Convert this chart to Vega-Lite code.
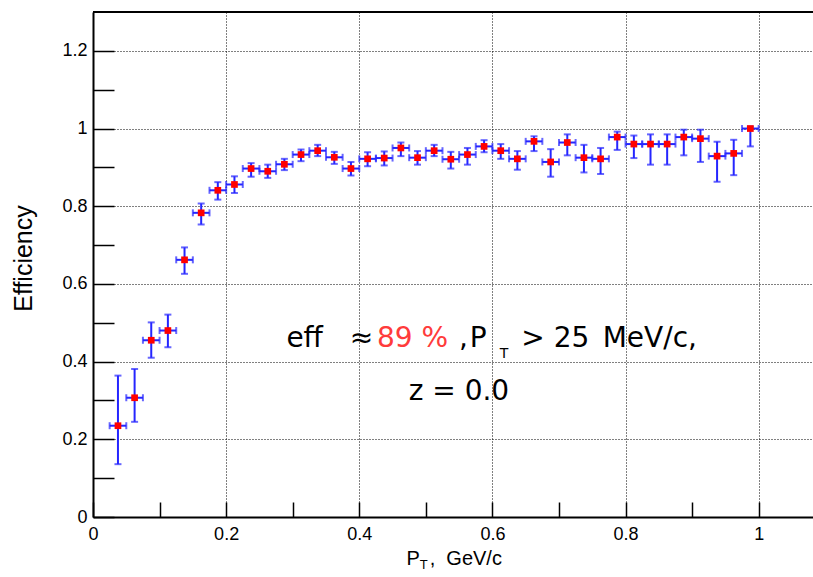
{
  "$schema": "https://vega.github.io/schema/vega-lite/v6.json",
  "width": 720,
  "height": 505,
  "autosize": "none",
  "padding": {"left": 93, "top": 12, "right": 0, "bottom": 60},
  "background": "white",
  "config": {
    "view": {"stroke": null},
    "text": {"fontWeight": "normal"},
    "axis": {
      "labelFont": "Liberation Sans",
      "labelFontSize": 18,
      "labelColor": "black",
      "titleFont": "Liberation Sans",
      "titleFontWeight": "normal",
      "titleColor": "black",
      "domainColor": "black",
      "domainWidth": 2,
      "tickColor": "black",
      "tickWidth": 1.5,
      "gridColor": "black",
      "gridDash": [1, 2],
      "gridWidth": 1,
      "labelOverlap": false,
      "labelFlush": false,
      "labelBound": false,
      "format": "~g"
    }
  },
  "datasets": {
    "eff": [
      {"pt": 0.0375, "xlo": 0.025, "xhi": 0.05, "eff": 0.235, "lo": 0.136, "hi": 0.364},
      {"pt": 0.0625, "xlo": 0.05, "xhi": 0.075, "eff": 0.307, "lo": 0.245, "hi": 0.381},
      {"pt": 0.0875, "xlo": 0.075, "xhi": 0.1, "eff": 0.455, "lo": 0.41, "hi": 0.501},
      {"pt": 0.1125, "xlo": 0.1, "xhi": 0.125, "eff": 0.48, "lo": 0.437, "hi": 0.521},
      {"pt": 0.1375, "xlo": 0.125, "xhi": 0.15, "eff": 0.662, "lo": 0.626, "hi": 0.694},
      {"pt": 0.1625, "xlo": 0.15, "xhi": 0.175, "eff": 0.783, "lo": 0.753, "hi": 0.807},
      {"pt": 0.1875, "xlo": 0.175, "xhi": 0.2, "eff": 0.841, "lo": 0.817, "hi": 0.862},
      {"pt": 0.2125, "xlo": 0.2, "xhi": 0.225, "eff": 0.856, "lo": 0.834, "hi": 0.877},
      {"pt": 0.2375, "xlo": 0.225, "xhi": 0.25, "eff": 0.897, "lo": 0.876, "hi": 0.911},
      {"pt": 0.2625, "xlo": 0.25, "xhi": 0.275, "eff": 0.89, "lo": 0.873, "hi": 0.907},
      {"pt": 0.2875, "xlo": 0.275, "xhi": 0.3, "eff": 0.908, "lo": 0.893, "hi": 0.922},
      {"pt": 0.3125, "xlo": 0.3, "xhi": 0.325, "eff": 0.933, "lo": 0.916, "hi": 0.946},
      {"pt": 0.3375, "xlo": 0.325, "xhi": 0.35, "eff": 0.943, "lo": 0.929, "hi": 0.958},
      {"pt": 0.3625, "xlo": 0.35, "xhi": 0.375, "eff": 0.926, "lo": 0.909, "hi": 0.94},
      {"pt": 0.3875, "xlo": 0.375, "xhi": 0.4, "eff": 0.897, "lo": 0.879, "hi": 0.914},
      {"pt": 0.4125, "xlo": 0.4, "xhi": 0.425, "eff": 0.922, "lo": 0.903, "hi": 0.939},
      {"pt": 0.4375, "xlo": 0.425, "xhi": 0.45, "eff": 0.924, "lo": 0.905, "hi": 0.941},
      {"pt": 0.4625, "xlo": 0.45, "xhi": 0.475, "eff": 0.95, "lo": 0.929, "hi": 0.964},
      {"pt": 0.4875, "xlo": 0.475, "xhi": 0.5, "eff": 0.925, "lo": 0.907, "hi": 0.942},
      {"pt": 0.5125, "xlo": 0.5, "xhi": 0.525, "eff": 0.943, "lo": 0.929, "hi": 0.958},
      {"pt": 0.5375, "xlo": 0.525, "xhi": 0.55, "eff": 0.921, "lo": 0.897, "hi": 0.94},
      {"pt": 0.5625, "xlo": 0.55, "xhi": 0.575, "eff": 0.933, "lo": 0.907, "hi": 0.95},
      {"pt": 0.5875, "xlo": 0.575, "xhi": 0.6, "eff": 0.954, "lo": 0.939, "hi": 0.97},
      {"pt": 0.6125, "xlo": 0.6, "xhi": 0.625, "eff": 0.943, "lo": 0.922, "hi": 0.96},
      {"pt": 0.6375, "xlo": 0.625, "xhi": 0.65, "eff": 0.922, "lo": 0.894, "hi": 0.942},
      {"pt": 0.6625, "xlo": 0.65, "xhi": 0.675, "eff": 0.967, "lo": 0.942, "hi": 0.98},
      {"pt": 0.6875, "xlo": 0.675, "xhi": 0.7, "eff": 0.914, "lo": 0.876, "hi": 0.947},
      {"pt": 0.7125, "xlo": 0.7, "xhi": 0.725, "eff": 0.964, "lo": 0.931, "hi": 0.985},
      {"pt": 0.7375, "xlo": 0.725, "xhi": 0.75, "eff": 0.925, "lo": 0.887, "hi": 0.958},
      {"pt": 0.7625, "xlo": 0.75, "xhi": 0.775, "eff": 0.922, "lo": 0.883, "hi": 0.95},
      {"pt": 0.7875, "xlo": 0.775, "xhi": 0.8, "eff": 0.978, "lo": 0.945, "hi": 0.992},
      {"pt": 0.8125, "xlo": 0.8, "xhi": 0.825, "eff": 0.96, "lo": 0.924, "hi": 0.982},
      {"pt": 0.8375, "xlo": 0.825, "xhi": 0.85, "eff": 0.96, "lo": 0.907, "hi": 0.985},
      {"pt": 0.8625, "xlo": 0.85, "xhi": 0.875, "eff": 0.96, "lo": 0.907, "hi": 0.985},
      {"pt": 0.8875, "xlo": 0.875, "xhi": 0.9, "eff": 0.978, "lo": 0.931, "hi": 0.997},
      {"pt": 0.9125, "xlo": 0.9, "xhi": 0.925, "eff": 0.974, "lo": 0.914, "hi": 0.997},
      {"pt": 0.9375, "xlo": 0.925, "xhi": 0.95, "eff": 0.929, "lo": 0.863, "hi": 0.966},
      {"pt": 0.9625, "xlo": 0.95, "xhi": 0.975, "eff": 0.936, "lo": 0.88, "hi": 0.971},
      {"pt": 0.9875, "xlo": 0.975, "xhi": 1.0, "eff": 1.0, "lo": 0.954, "hi": 1.005}
    ],
    "one": [{}]
  },
  "data": {"name": "eff"},
  "layer": [
    {
      "mark": {"type": "errorbar", "ticks": {"size": 7, "color": "#2525ff"}, "color": "#2525ff", "thickness": 2},
      "encoding": {
        "x": {
          "field": "xlo", "type": "quantitative",
          "scale": {"domain": [0, 1.0816], "nice": false, "zero": false},
          "axis": {
            "title": null,
            "values": [0, 0.05, 0.1, 0.15, 0.2, 0.25, 0.3, 0.35, 0.4, 0.45, 0.5, 0.55, 0.6, 0.65, 0.7, 0.75, 0.8, 0.85, 0.9, 0.95, 1, 1.05],
            "tickSize": -15,
            "labelPadding": 23,
            "labelExpr": "abs(datum.value*5 - round(datum.value*5)) < 0.001 ? datum.label : ''",
            "grid": true,
            "gridOpacity": {"condition": {"test": "abs(datum.value*5 - round(datum.value*5)) < 0.001 && datum.value > 0", "value": 1}, "value": 0},
            "encode": {"ticks": {"update": {"y2": {"signal": "abs(datum.value*5 - round(datum.value*5)) > 0.001 ? -7 : -15"}}}}
          }
        },
        "x2": {"field": "xhi"},
        "y": {
          "field": "eff", "type": "quantitative", "title": "Efficiency",
          "scale": {"domain": [0, 1.3], "nice": false, "zero": false},
          "axis": {
            "title": "Efficiency",
            "titleFontSize": 25,
            "titleAngle": -90,
            "titleX": -62,
            "titleY": 246,
            "titleAlign": "center",
            "titleBaseline": "alphabetic",
            "values": [0, 0.05, 0.1, 0.15, 0.2, 0.25, 0.3, 0.35, 0.4, 0.45, 0.5, 0.55, 0.6, 0.65, 0.7, 0.75, 0.8, 0.85, 0.9, 0.95, 1, 1.05, 1.1, 1.15, 1.2, 1.25],
            "tickSize": -21,
            "labelPadding": 27,
            "labelExpr": "abs(datum.value*5 - round(datum.value*5)) < 0.001 ? datum.label : ''",
            "grid": true,
            "gridOpacity": {"condition": {"test": "abs(datum.value*5 - round(datum.value*5)) < 0.001 && datum.value > 0", "value": 1}, "value": 0},
            "encode": {"ticks": {"update": {"x2": {"signal": "abs(datum.value*5 - round(datum.value*5)) > 0.001 ? 12 : 21"}}}}
          }
        }
      }
    },
    {
      "mark": {"type": "errorbar", "ticks": {"size": 7, "color": "#2525ff"}, "color": "#2525ff", "thickness": 2},
      "encoding": {
        "x": {"field": "pt", "type": "quantitative"},
        "y": {"field": "lo", "type": "quantitative", "title": "Efficiency"},
        "y2": {"field": "hi"}
      }
    },
    {
      "mark": {"type": "point", "shape": "square", "filled": true, "color": "#ff0000", "size": 45, "opacity": 1},
      "encoding": {
        "x": {"field": "pt", "type": "quantitative"},
        "y": {"field": "eff", "type": "quantitative", "title": "Efficiency"}
      }
    },
    {
      "data": {"name": "one"},
      "mark": {"type": "rule", "color": "black", "strokeWidth": 2},
      "encoding": {"y": {"datum": 1.3, "type": "quantitative", "title": "Efficiency"}}
    },
    {
      "data": {"name": "one"},
      "mark": {"type": "text", "text": "eff", "font": "DejaVu Sans", "fontSize": 28, "fontWeight": "normal", "align": "left", "baseline": "alphabetic", "color": "black"},
      "encoding": {"x": {"datum": 0.2905, "type": "quantitative"}, "y": {"datum": 0.4381, "type": "quantitative", "title": "Efficiency"}}
    },
    {
      "data": {"name": "one"},
      "mark": {"type": "text", "text": "≈", "font": "DejaVu Sans", "fontSize": 28, "fontWeight": "normal", "align": "left", "baseline": "alphabetic", "color": "black"},
      "encoding": {"x": {"datum": 0.3856, "type": "quantitative"}, "y": {"datum": 0.4381, "type": "quantitative", "title": "Efficiency"}}
    },
    {
      "data": {"name": "one"},
      "mark": {"type": "text", "text": "89 %", "font": "DejaVu Sans", "fontSize": 28, "fontWeight": "normal", "align": "left", "baseline": "alphabetic", "color": "#ff3b3b"},
      "encoding": {"x": {"datum": 0.4266, "type": "quantitative"}, "y": {"datum": 0.4381, "type": "quantitative", "title": "Efficiency"}}
    },
    {
      "data": {"name": "one"},
      "mark": {"type": "text", "text": ",", "font": "DejaVu Sans", "fontSize": 28, "fontWeight": "normal", "align": "left", "baseline": "alphabetic", "color": "black"},
      "encoding": {"x": {"datum": 0.5498, "type": "quantitative"}, "y": {"datum": 0.4381, "type": "quantitative", "title": "Efficiency"}}
    },
    {
      "data": {"name": "one"},
      "mark": {"type": "text", "text": "P", "font": "DejaVu Sans", "fontSize": 28, "fontWeight": "normal", "align": "left", "baseline": "alphabetic", "color": "black"},
      "encoding": {"x": {"datum": 0.5659, "type": "quantitative"}, "y": {"datum": 0.4381, "type": "quantitative", "title": "Efficiency"}}
    },
    {
      "data": {"name": "one"},
      "mark": {"type": "text", "text": "T", "font": "DejaVu Sans", "fontSize": 14, "fontWeight": "normal", "align": "left", "baseline": "alphabetic", "color": "black"},
      "encoding": {"x": {"datum": 0.611, "type": "quantitative"}, "y": {"datum": 0.4098, "type": "quantitative", "title": "Efficiency"}}
    },
    {
      "data": {"name": "one"},
      "mark": {"type": "text", "text": "> 25", "font": "DejaVu Sans", "fontSize": 28, "fontWeight": "normal", "align": "left", "baseline": "alphabetic", "color": "black"},
      "encoding": {"x": {"datum": 0.6435, "type": "quantitative"}, "y": {"datum": 0.4381, "type": "quantitative", "title": "Efficiency"}}
    },
    {
      "data": {"name": "one"},
      "mark": {"type": "text", "text": "MeV/c,", "font": "DejaVu Sans", "fontSize": 28, "fontWeight": "normal", "align": "left", "baseline": "alphabetic", "color": "black"},
      "encoding": {"x": {"datum": 0.7657, "type": "quantitative"}, "y": {"datum": 0.4381, "type": "quantitative", "title": "Efficiency"}}
    },
    {
      "data": {"name": "one"},
      "mark": {"type": "text", "text": "z = 0.0", "font": "DejaVu Sans", "fontSize": 28, "fontWeight": "normal", "align": "center", "baseline": "alphabetic", "color": "black"},
      "encoding": {"x": {"datum": 0.5497, "type": "quantitative"}, "y": {"datum": 0.3015, "type": "quantitative", "title": "Efficiency"}}
    },
    {
      "data": {"name": "one"},
      "mark": {"type": "text", "text": "P", "font": "Liberation Sans", "fontSize": 20, "fontWeight": "normal", "align": "left", "baseline": "alphabetic", "color": "black"},
      "encoding": {"x": {"datum": 0.4708, "type": "quantitative"}, "y": {"datum": -0.1237, "type": "quantitative", "title": "Efficiency"}}
    },
    {
      "data": {"name": "one"},
      "mark": {"type": "text", "text": "T", "font": "Liberation Sans", "fontSize": 13, "fontWeight": "normal", "align": "left", "baseline": "alphabetic", "color": "black"},
      "encoding": {"x": {"datum": 0.4907, "type": "quantitative"}, "y": {"datum": -0.134, "type": "quantitative", "title": "Efficiency"}}
    },
    {
      "data": {"name": "one"},
      "mark": {"type": "text", "text": ",", "font": "Liberation Sans", "fontSize": 20, "fontWeight": "normal", "align": "left", "baseline": "alphabetic", "color": "black"},
      "encoding": {"x": {"datum": 0.5058, "type": "quantitative"}, "y": {"datum": -0.1237, "type": "quantitative", "title": "Efficiency"}}
    },
    {
      "data": {"name": "one"},
      "mark": {"type": "text", "text": "GeV/c", "font": "Liberation Sans", "fontSize": 20, "fontWeight": "normal", "align": "left", "baseline": "alphabetic", "color": "black"},
      "encoding": {"x": {"datum": 0.5308, "type": "quantitative"}, "y": {"datum": -0.1237, "type": "quantitative", "title": "Efficiency"}}
    }
  ]
}
